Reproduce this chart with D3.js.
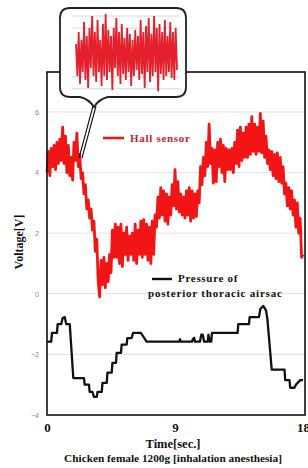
<!DOCTYPE html>
<html><head><meta charset="utf-8">
<script src="https://cdn.jsdelivr.net/npm/d3@7"></script>
<style>
html,body{margin:0;padding:0;background:#fff;overflow:hidden;}
svg{display:block;}
</style></head>
<body>
<svg id="c" width="308" height="468"></svg>
<script>
// ---- data ----
const xTicks = [0, 9, 18];
const yTicks = [-4, -2, 0, 2, 4, 6];
const hallStep = 0.1; // sec between samples
const hallValues = [
 4.0,4.7,3.9,4.8,4.2,4.9,4.1,5.0,4.3,5.1,
 4.4,5.5,4.3,5.2,4.0,4.9,3.9,4.5,3.75,5.0,
 4.4,5.3,4.2,4.6,3.8,4.0,3.3,3.6,2.8,3.1,
 2.5,2.8,2.1,2.4,1.4,1.8,0.4,-0.1,1.1,0.3,
 1.2,0.2,1.0,0.4,1.3,0.7,2.1,1.2,2.3,1.2,
 2.2,1.0,2.3,0.9,2.0,1.3,2.2,1.1,1.9,1.3,
 2.0,1.1,2.3,1.0,2.1,1.3,2.4,1.2,2.45,1.3,
 2.3,1.1,2.2,1.0,2.4,1.3,2.6,2.2,3.2,2.5,
 3.5,2.6,3.4,2.4,3.3,2.3,3.2,2.6,3.6,2.9,
 4.1,2.8,3.7,2.7,3.3,2.6,3.2,2.5,3.4,2.6,
 3.5,2.4,3.4,2.5,3.3,2.55,3.4,3.0,4.2,3.6,
 4.5,3.9,5.0,4.2,5.6,4.3,4.8,3.65,4.75,3.7,
 5.0,4.2,5.1,4.0,4.9,3.7,4.8,4.1,4.75,4.1,
 4.8,4.0,5.0,4.3,5.4,4.2,5.5,4.4,5.3,4.5,
 5.5,4.5,5.6,4.6,5.85,4.7,5.6,4.6,5.5,4.7,
 5.95,4.65,5.7,4.5,5.2,4.3,4.75,4.1,4.7,3.9,
 4.6,3.8,4.65,3.7,4.5,3.65,4.2,3.3,3.65,2.9,
 3.5,2.8,3.4,2.6,3.1,2.2,3.0,2.0,2.5,1.2,
 1.3
];
const pressureTime = [0,0.3,0.35,0.7,0.75,1.0,1.1,1.25,1.35,1.6,1.85,2.6,2.65,2.95,3.0,3.2,3.3,3.5,3.55,3.85,3.9,4.2,4.25,4.55,4.6,4.85,4.9,5.2,5.25,5.6,5.65,5.95,6.05,6.6,6.75,7.0,9.3,9.35,9.4,10.2,10.25,10.35,10.4,10.75,10.85,10.95,11.05,11.3,11.35,11.45,11.55,11.6,13.4,13.45,14.2,14.25,14.9,15.0,15.2,15.4,15.5,15.8,16.7,16.75,17.05,17.1,17.4,17.5,17.8,18.0];
const pressureValues = [-1.58,-1.58,-1.29,-1.29,-1.0,-1.0,-0.8,-0.77,-1.0,-1.0,-2.78,-2.78,-3.0,-3.0,-3.24,-3.24,-3.4,-3.4,-3.24,-3.24,-2.94,-2.94,-2.6,-2.6,-2.28,-2.28,-1.95,-1.95,-1.68,-1.68,-1.46,-1.46,-1.29,-1.29,-1.4,-1.58,-1.58,-1.5,-1.58,-1.58,-1.5,-1.45,-1.58,-1.58,-1.35,-1.35,-1.58,-1.58,-1.35,-1.58,-1.58,-1.29,-1.29,-1.0,-1.0,-0.77,-0.77,-0.5,-0.4,-0.55,-0.85,-2.5,-2.5,-2.85,-2.85,-3.1,-3.1,-3.0,-2.85,-2.85];
const insetValues = [0.2,-0.6,0.5,-0.8,0.3,-0.5,0.75,-0.7,0.4,-0.9,0.6,-0.4,0.9,-0.6,0.5,-0.75,0.8,-0.5,0.3,-0.85,0.7,-0.6,0.95,-0.7,0.55,-0.5,0.4,-0.95,0.6,-0.4,0.85,-0.6,0.5,-0.8,0.7,-0.55,0.35,-0.7,0.6,-0.5,0.45,-0.85,0.3,-0.6,0.55,-0.45,0.4,-0.7,0.8,-0.55,0.5,-0.9,0.65,-0.5,0.85,-0.75,0.45,-0.6,0.9,-0.5,0.6,-0.98,0.7,-0.55,0.5,-0.7,0.8,-0.6,0.4,-0.5,0.75,-0.65,0.5,-0.7,0.6,-0.45];
const insetGrid = [0.9, 0.6, -0.62, -0.92];
const legendHall = "Hall sensor";
const legendPressure = ["Pressure of", "posterior thoracic airsac"];
const xTitle = "Time[sec.]";
const yTitle = "Voltage[V]";
const caption = "Chicken female 1200g [inhalation anesthesia]";

// ---- layout ----
const svg = d3.select("#c");
const L = 47, R = 303, T = 72, B = 415;
const x = d3.scaleLinear().domain([0, 18]).range([L, R]);
const y = d3.scaleLinear().domain([-4, 7.32]).range([B, T]);
const serif = "'Liberation Serif','Times New Roman',serif";

// gridlines
svg.append("g").selectAll("line").data(yTicks.filter(v => v > -4)).join("line")
  .attr("x1", L).attr("x2", 305).attr("y1", d => y(d)).attr("y2", d => y(d))
  .attr("stroke", "#e2e2e2").attr("stroke-width", 1);

// y tick labels
const yAxis = d3.axisLeft(y).tickValues(yTicks).tickSize(0).tickPadding(8);
const gy = svg.append("g").attr("transform", `translate(${L},0)`).call(yAxis);
gy.select(".domain").remove();
gy.selectAll("text").attr("font-family", "'Liberation Sans',Arial,sans-serif")
  .attr("font-size", 7).attr("fill", "#8a8a8a");

// x tick labels
const xAxis = d3.axisBottom(x).tickValues(xTicks).tickSize(0).tickPadding(8);
const gx = svg.append("g").attr("transform", `translate(0,${B})`).call(xAxis);
gx.select(".domain").remove();
gx.selectAll("text").attr("font-family", serif).attr("font-weight", "bold")
  .attr("font-size", 13).attr("fill", "#111");

// data lines
const hall = hallValues.map((v, i) => [i * hallStep, v]);
const line = d3.line().x(d => x(d[0])).y(d => y(d[1]));
svg.append("path").attr("d", line(hall)).attr("fill", "none")
  .attr("stroke", "#f21515").attr("stroke-width", 2.8).attr("stroke-linejoin", "round");

const press = pressureTime.map((t, i) => [t, pressureValues[i]]);
svg.append("path").attr("d", line(press)).attr("fill", "none")
  .attr("stroke", "#111").attr("stroke-width", 2.3).attr("stroke-linejoin", "round");

// frame
svg.append("rect").attr("x", L).attr("y", T).attr("width", 305 - L).attr("height", B - T)
  .attr("fill", "none").attr("stroke", "#111").attr("stroke-width", 1.6);

// callout pointer
svg.append("line").attr("x1", 93).attr("y1", 106).attr("x2", 79).attr("y2", 158)
  .attr("stroke", "#111").attr("stroke-width", 1.1);
svg.append("line").attr("x1", 96).attr("y1", 106).attr("x2", 82).attr("y2", 158)
  .attr("stroke", "#111").attr("stroke-width", 1.1);

// callout bubble
svg.append("path")
  .attr("d", "M70,8 H176 Q186,8 186,18 V87 Q186,97 176,97 H108 Q99,99 94,107 Q89,99 80,97 H70 Q60,97 60,87 V18 Q60,8 70,8 Z")
  .attr("fill", "#fff").attr("stroke", "#222").attr("stroke-width", 1.8);

// inset
const ix = d3.scaleLinear().domain([0, insetValues.length - 1]).range([76, 177]);
const iy = d3.scaleLinear().domain([-1, 1]).range([92, 12]);
svg.append("g").selectAll("line").data(insetGrid).join("line")
  .attr("x1", 72).attr("x2", 180).attr("y1", d => iy(d)).attr("y2", d => iy(d))
  .attr("stroke", "#d8d8d8").attr("stroke-width", 1);
svg.append("path")
  .attr("d", d3.line().x((d, i) => ix(i)).y(d => iy(d))(insetValues))
  .attr("fill", "none").attr("stroke", "#e3202c").attr("stroke-width", 1.8)
  .attr("stroke-linejoin", "miter");

// legend
svg.append("line").attr("x1", 103).attr("x2", 124).attr("y1", 138).attr("y2", 138)
  .attr("stroke", "#d81e1e").attr("stroke-width", 2.6);
svg.append("text").attr("x", 130).attr("y", 142).text(legendHall)
  .attr("font-family", serif).attr("font-weight", "bold").attr("font-size", 11)
  .attr("letter-spacing", 0.7).attr("fill", "#c4282a");

svg.append("line").attr("x1", 152).attr("x2", 172).attr("y1", 279).attr("y2", 279)
  .attr("stroke", "#111").attr("stroke-width", 2.4);
svg.append("text").attr("x", 178).attr("y", 282).text(legendPressure[0])
  .attr("font-family", serif).attr("font-weight", "bold").attr("font-size", 11)
  .attr("letter-spacing", 0.7).attr("fill", "#111");
svg.append("text").attr("x", 148).attr("y", 297).text(legendPressure[1])
  .attr("font-family", serif).attr("font-weight", "bold").attr("font-size", 11)
  .attr("letter-spacing", 0.8).attr("fill", "#111");

// titles
svg.append("text").attr("x", 173).attr("y", 448).attr("text-anchor", "middle").text(xTitle)
  .attr("font-family", serif).attr("font-weight", "bold").attr("font-size", 12.5).attr("fill", "#111");
svg.append("text").attr("x", 173).attr("y", 462).attr("text-anchor", "middle").text(caption)
  .attr("font-family", serif).attr("font-weight", "bold").attr("font-size", 11.3)
  .attr("fill", "#111");
svg.append("text").attr("transform", "translate(23,242) rotate(-90)").attr("text-anchor", "middle")
  .text(yTitle).attr("font-family", serif).attr("font-weight", "bold").attr("font-size", 12).attr("fill", "#111");
</script>
</body></html>
